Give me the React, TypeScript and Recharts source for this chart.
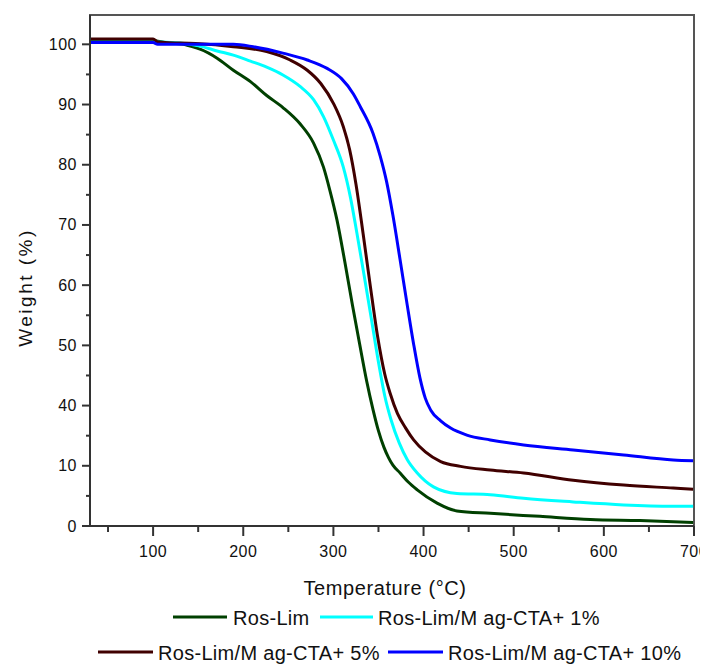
import { LineChart, Line, XAxis, YAxis, ReferenceArea, Legend } from "recharts"

// axis ticks
const TEMP_TICKS = [100, 200, 300, 400, 500, 600, 700]
const TEMP_MINOR_TICKS = [50, 150, 250, 350, 450, 550, 650]
const WEIGHT_TICK_LABELS = [0, 10, 40, 50, 60, 70, 80, 90, 100]

const SERIES_NAMES = [
    "Ros-Lim",
    "Ros-Lim/M ag-CTA+ 1%",
    "Ros-Lim/M ag-CTA+ 5%",
    "Ros-Lim/M ag-CTA+ 10%",
]

// Ros-Lim
const ROS_LIM_T = [30, 100, 114, 134, 141, 152, 171, 189, 208, 226, 244, 263, 278, 289, 296, 304, 313, 321, 329, 337, 344, 350, 356, 361, 366, 374, 383, 393, 415, 437, 474, 529, 585, 640, 699]
const ROS_LIM_W = [100.6, 100.6, 100.3, 100.0, 99.7, 99.2, 97.7, 95.7, 93.8, 91.5, 89.5, 86.8, 83.6, 79.6, 75.8, 70.8, 63.6, 56.8, 50.3, 44.0, 37.9, 27.4, 19.3, 14.2, 10.3, 8.8, 7.3, 6.0, 3.8, 2.5, 2.1, 1.6, 1.1, 0.9, 0.6]

// Ros-Lim/Mag-CTA+ 1%
const MAG1_T = [30, 100, 130, 152, 171, 189, 208, 226, 244, 263, 278, 289, 300, 311, 319, 326, 334, 342, 350, 357, 364, 373, 382, 393, 411, 437, 474, 511, 566, 622, 677, 699]
const MAG1_W = [100.4, 100.4, 100.2, 99.7, 98.9, 98.2, 97.2, 96.2, 94.9, 93.0, 90.8, 88.0, 84.1, 79.6, 74.5, 68.7, 61.7, 54.5, 47.2, 41.6, 32.8, 21.4, 13.0, 8.8, 6.5, 5.4, 5.2, 4.6, 4.0, 3.5, 3.3, 3.3]

// Ros-Lim/Mag-CTA+ 5%
const MAG5_T = [30, 100, 105, 130, 152, 189, 226, 252, 271, 286, 300, 311, 318, 325, 333, 341, 349, 357, 363, 371, 380, 389, 402, 419, 441, 474, 511, 566, 622, 677, 699]
const MAG5_W = [100.9, 100.9, 100.4, 100.2, 100.1, 99.6, 98.8, 97.4, 95.7, 93.5, 90.2, 86.3, 82.5, 76.8, 68.5, 59.8, 51.5, 45.2, 42.0, 36.1, 28.9, 22.9, 16.9, 12.1, 9.9, 9.3, 8.8, 7.6, 6.8, 6.3, 6.1]

// Ros-Lim/Mag-CTA+ 10%
const MAG10_T = [30, 100, 105, 189, 211, 245, 271, 293, 309, 322, 330, 344, 352, 359, 366, 374, 382, 389, 396, 402, 408, 419, 430, 448, 474, 511, 566, 622, 677, 699]
const MAG10_W = [100.3, 100.3, 100.0, 100.0, 99.6, 98.5, 97.4, 96.0, 94.3, 91.8, 89.6, 85.2, 81.4, 77.2, 71.6, 64.2, 56.6, 50.2, 44.6, 41.2, 37.7, 32.4, 28.8, 25.3, 22.9, 20.4, 17.9, 15.4, 12.9, 12.5]

const COLORS = ["#004000", "#00ffff", "#400000", "#0000ff"]
const FONT = "'Liberation Sans', Arial, sans-serif"
const Y_TOP = 84.87

// the weight axis is broken: 10..40 is squeezed into a single tick interval
const toAxis = (w: number) => (w <= 10 ? w : w >= 40 ? w - 20 : 10 + (w - 10) / 3)

const toPoints = (temps: number[], weights: number[]) =>
    temps.map((t, i) => ({ t, y: toAxis(weights[i]) }))

const SERIES = [
    toPoints(ROS_LIM_T, ROS_LIM_W),
    toPoints(MAG1_T, MAG1_W),
    toPoints(MAG5_T, MAG5_W),
    toPoints(MAG10_T, MAG10_W),
]

const Y_MAJOR = WEIGHT_TICK_LABELS.map(toAxis)
const Y_MINOR = Y_MAJOR.slice(1).map((p, i) => (p + Y_MAJOR[i]) / 2)

const LEGEND_SLOTS = [
    { x1: 165, x2: 219, tx: 225, y: 14 },
    { x1: 312, x2: 365, tx: 370, y: 14 },
    { x1: 90, x2: 145, tx: 150, y: 49 },
    { x1: 380, x2: 435, tx: 440, y: 49 },
]

function TempTick({ x, y, payload }: any) {
    const major = TEMP_TICKS.includes(payload.value)
    return (
        <g>
            <line x1={x} y1={y} x2={x} y2={y + (major ? 10 : 6)} stroke="#333" strokeWidth={2} />
            {major && (
                <text x={x} y={y + 31} textAnchor="middle" fontSize={16} fontFamily={FONT} fill="#111"
                    style={{ letterSpacing: 0.5 }}>
                    {payload.value}
                </text>
            )}
        </g>
    )
}

function WeightTick({ x, y, payload }: any) {
    const idx = Y_MAJOR.indexOf(payload.value)
    const major = idx >= 0
    return (
        <g>
            <line x1={x - (major ? 8 : 4)} y1={y} x2={x} y2={y} stroke="#333" strokeWidth={2} />
            {major && (
                <text x={x - 13} y={y + 5.5} textAnchor="end" fontSize={16} fontFamily={FONT} fill="#111"
                    style={{ letterSpacing: 0.5 }}>
                    {WEIGHT_TICK_LABELS[idx]}
                </text>
            )}
        </g>
    )
}

function XTitle(props: any) {
    const vb = props.viewBox ?? { x: 82, y: 518, width: 604, height: 40 }
    return (
        <text x={vb.x + vb.width / 2 - 7} y={vb.y + 69} textAnchor="middle" fontSize={20} fontFamily={FONT}
            fill="#111" style={{ letterSpacing: 0.6 }}>
            Temperature (°C)
        </text>
    )
}

function YTitle(props: any) {
    const vb = props.viewBox ?? { x: 0, y: 7, width: 82, height: 511 }
    const cx = vb.x + 24
    const cy = vb.y + vb.height / 2 + 17
    return (
        <text x={cx} y={cy} transform={`rotate(-90, ${cx}, ${cy})`} textAnchor="middle" fontSize={19}
            fontFamily={FONT} fill="#111" style={{ letterSpacing: 2.5 }}>
            Weight (%)
        </text>
    )
}

function LegendBox({ payload }: any) {
    return (
        <svg width={700} height={66}>
            {(payload ?? []).map((entry: any) => {
                const i = SERIES_NAMES.indexOf(entry.value)
                const s = LEGEND_SLOTS[i]
                if (!s) return null
                return (
                    <g key={entry.value}>
                        <line x1={s.x1} y1={s.y} x2={s.x2} y2={s.y} stroke={COLORS[i]} strokeWidth={3} />
                        <text x={s.tx} y={s.y + 8} fontSize={20} fontFamily={FONT} fill="#111"
                            style={{ letterSpacing: 0.3 }}>
                            {entry.value}
                        </text>
                    </g>
                )
            })}
        </svg>
    )
}

export default function App() {
    return (
        <LineChart width={700} height={658} margin={{ top: 7, right: 14, bottom: 100, left: 0 }}>
            <ReferenceArea x1={30} x2={700} y1={0} y2={Y_TOP} fill="none" stroke="#555" strokeWidth={2} />
            <XAxis
                type="number"
                dataKey="t"
                domain={[30, 700]}
                ticks={[...TEMP_MINOR_TICKS, ...TEMP_TICKS].sort((a, b) => a - b)}
                interval={0}
                tick={(p: any) => <TempTick {...p} />}
                tickLine={false}
                tickSize={0}
                tickMargin={0}
                axisLine={{ stroke: "#333", strokeWidth: 2 }}
                height={40}
                label={(p: any) => <XTitle {...p} />}
            />
            <YAxis
                type="number"
                domain={[0, Y_TOP]}
                ticks={[...Y_MAJOR, ...Y_MINOR].sort((a, b) => a - b)}
                interval={0}
                tick={(p: any) => <WeightTick {...p} />}
                tickLine={false}
                tickSize={0}
                tickMargin={0}
                axisLine={{ stroke: "#333", strokeWidth: 2 }}
                width={82}
                label={(p: any) => <YTitle {...p} />}
            />
            <Legend
                layout="horizontal"
                verticalAlign="middle"
                align="center"
                content={(p: any) => <LegendBox {...p} />}
                wrapperStyle={{ left: 0, top: 595, width: 700 }}
            />
            {SERIES.map((data, i) => (
                <Line
                    key={SERIES_NAMES[i]}
                    data={data}
                    dataKey="y"
                    name={SERIES_NAMES[i]}
                    type="monotone"
                    stroke={COLORS[i]}
                    strokeWidth={3}
                    dot={false}
                    activeDot={false}
                    isAnimationActive={false}
                />
            ))}
        </LineChart>
    )
}
